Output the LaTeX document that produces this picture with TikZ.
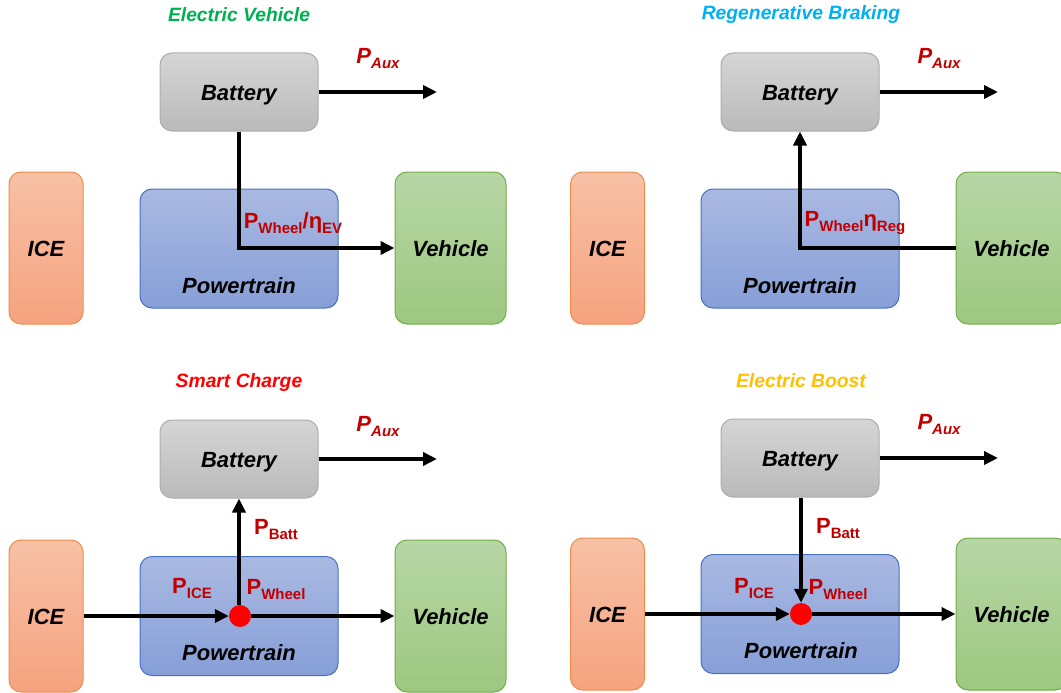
\documentclass[tikz,border=0pt]{standalone}
\usepackage{fontspec}
\setmainfont{Liberation Sans}
\usetikzlibrary{arrows.meta}
\definecolor{labred}{RGB}{192,0,0}
\definecolor{tgreen}{RGB}{0,176,80}
\definecolor{tblue}{RGB}{0,176,240}
\definecolor{tred}{RGB}{255,0,0}
\definecolor{tgold}{RGB}{255,192,0}
\definecolor{battop}{RGB}{213,213,213}
\definecolor{batbot}{RGB}{186,186,186}
\definecolor{batdraw}{RGB}{172,172,172}
\definecolor{icetop}{RGB}{248,193,166}
\definecolor{icebot}{RGB}{245,163,128}
\definecolor{icedraw}{RGB}{240,140,75}
\definecolor{pttop}{RGB}{170,185,226}
\definecolor{ptbot}{RGB}{134,159,215}
\definecolor{ptdraw}{RGB}{70,114,196}
\definecolor{vehtop}{RGB}{183,214,166}
\definecolor{vehbot}{RGB}{157,200,128}
\definecolor{vehdraw}{RGB}{112,173,71}
\newcommand\lsub[1]{\raisebox{-5pt}{\fontsize{15}{15}\selectfont #1}}
\newcommand\tsub[1]{\raisebox{-5.5pt}{\fontsize{15}{15}\selectfont #1}}
\tikzset{
  boxbase/.style={rounded corners=12pt, line width=1pt, inner sep=0pt,
    text height=16pt, text depth=0pt,
    font=\fontsize{22}{26}\selectfont\bfseries\itshape},
  batbox/.style={boxbase, draw=batdraw, top color=battop, bottom color=batbot,
    minimum width=158pt, minimum height=78pt},
  icebox/.style={boxbase, draw=icedraw, top color=icetop, bottom color=icebot,
    minimum width=74pt, minimum height=152pt},
  ptbox/.style={boxbase, draw=ptdraw, top color=pttop, bottom color=ptbot,
    minimum width=198pt, minimum height=119pt},
  vehbox/.style={boxbase, draw=vehdraw, top color=vehtop, bottom color=vehbot,
    minimum width=111pt, minimum height=152pt},
  boxtext/.style={inner sep=0pt, text height=16pt, text depth=0pt,
    font=\fontsize{22}{26}\selectfont\bfseries\itshape},
  title/.style={inner sep=0pt, font=\fontsize{19.3}{22}\selectfont\bfseries\itshape},
  plab/.style={inner sep=0pt, text=labred, font=\fontsize{22}{22}\selectfont\bfseries},
  auxlab/.style={inner sep=0pt, text=labred, font=\fontsize{22}{22}\selectfont\bfseries\itshape},
  flow/.style={line width=3.6pt, -{Triangle[length=14pt,width=13pt]}},
  jdot/.style={circle, fill=tred, inner sep=0pt, minimum width=21pt, minimum height=22pt}
}
\begin{document}
\begin{tikzpicture}[x=1pt,y=-1pt]
\useasboundingbox (0,0) rectangle (1061,693);

% ---------- Panel 1: Electric Vehicle ----------
\node[title, text=tgreen] (t1) at (239,15) {Electric Vehicle};
\node[batbox] (bat1) at (239,92) {Battery};
\node[icebox] (ice1) at (46,248) {ICE};
\node[ptbox] (pt1) at (239,248.5) {};
\node[boxtext] (ptt1) at (239,285) {Powertrain};
\node[vehbox] (veh1) at (450.5,248) {Vehicle};
\coordinate (aux1) at (437,92);
\node[auxlab] (pa1) at (378,58.5) {P\tsub{Aux}};
\draw[flow] (bat1.east) -- (aux1);
\draw[flow] (bat1.south) |- (veh1.west);
\node[plab] (l1) at (293,223) {P\lsub{Wheel}/η\lsub{EV}};

% ---------- Panel 2: Regenerative Braking ----------
\node[title, text=tblue] (t2) at (801,15) {Regenerative Braking};
\node[batbox] (bat2) at (800,92) {Battery};
\node[icebox] (ice2) at (607.5,248) {ICE};
\node[ptbox] (pt2) at (800,248.5) {};
\node[boxtext] (ptt2) at (800,285) {Powertrain};
\node[vehbox] (veh2) at (1011.5,248) {Vehicle};
\coordinate (aux2) at (998,92);
\node[auxlab] (pa2) at (939,58.5) {P\tsub{Aux}};
\draw[flow] (bat2.east) -- (aux2);
\draw[flow] (veh2.west) -| (bat2.south);
\node[plab] (l2) at (855,223) {P\lsub{Wheel}η\lsub{Reg}};

% ---------- Panel 3: Smart Charge ----------
\node[title, text=tred] (t3) at (239,383) {Smart Charge};
\node[batbox] (bat3) at (239,459) {Battery};
\node[icebox] (ice3) at (46,616) {ICE};
\node[ptbox] (pt3) at (239,616) {};
\node[boxtext] (ptt3) at (239,652) {Powertrain};
\node[vehbox] (veh3) at (450.5,616) {Vehicle};
\coordinate (aux3) at (437,459);
\node[auxlab] (pa3) at (378,426.5) {P\tsub{Aux}};
\draw[flow] (bat3.east) -- (aux3);
\node[jdot] (d3) at (240,616) {};
\draw[flow] (ice3.east) -- (d3.west);
\draw[flow] (d3.east) -- (veh3.west);
\draw[flow] (d3.north -| bat3.south) -- (bat3.south);
\node[plab] (lb3) at (276,530) {P\lsub{Batt}};
\node[plab] (li3) at (192,589) {P\lsub{ICE}};
\node[plab] (lw3) at (276,590) {P\lsub{Wheel}};

% ---------- Panel 4: Electric Boost ----------
\node[title, text=tgold] (t4) at (801,381) {Electric Boost};
\node[batbox] (bat4) at (800,458) {Battery};
\node[icebox] (ice4) at (607.5,614) {ICE};
\node[ptbox] (pt4) at (800,614) {};
\node[boxtext] (ptt4) at (801,650) {Powertrain};
\node[vehbox] (veh4) at (1011.5,614) {Vehicle};
\coordinate (aux4) at (998,458);
\node[auxlab] (pa4) at (939,424.5) {P\tsub{Aux}};
\draw[flow] (bat4.east) -- (aux4);
\node[jdot] (d4) at (801,614) {};
\draw[flow] (ice4.east) -- (d4.west);
\draw[flow] (d4.east) -- (veh4.west);
\draw[flow] (bat4.south -| d4.north) -- (d4.north);
\node[plab] (lb4) at (838,529) {P\lsub{Batt}};
\node[plab] (li4) at (754,589) {P\lsub{ICE}};
\node[plab] (lw4) at (838,590) {P\lsub{Wheel}};
\end{tikzpicture}
\end{document}
